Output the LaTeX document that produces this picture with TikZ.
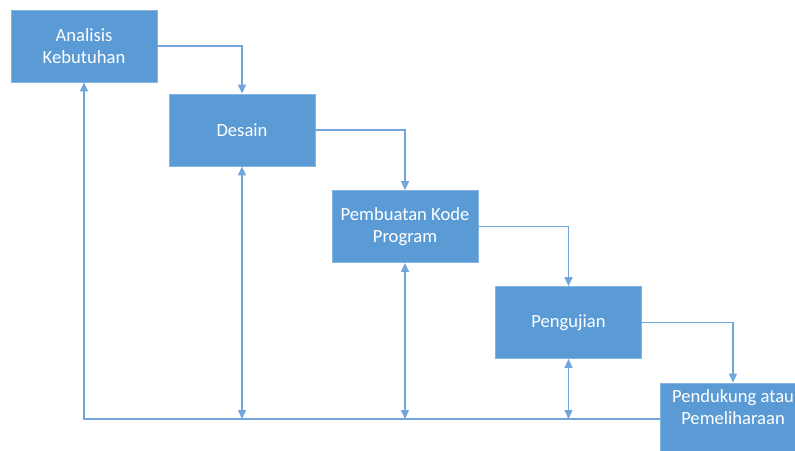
\documentclass[tikz,border=0pt]{standalone}
\usepackage{fontspec}
\setmainfont{Carlito}
\usetikzlibrary{arrows.meta}

\definecolor{kotakbiru}{HTML}{5B9BD5}
\definecolor{garisbiru}{HTML}{70A6DC}

\begin{document}
\begin{tikzpicture}[x=1pt, y=-1pt, >={Triangle[width=8pt, length=9pt]},
    tahap/.style={draw=kotakbiru!75!white, line width=0.8pt, fill=kotakbiru, text=white,
        minimum width=146pt, minimum height=72pt, inner sep=0pt, align=center,
        font=\fontsize{18.6}{22}\selectfont},
    alur/.style={draw=garisbiru, line width=1.3pt}]
    \clip (0,0) rectangle (795,450);

    % Tahapan
    \node[tahap] (analisis) at (84,46) {Analisis\\Kebutuhan};
    \node[tahap] (desain) at (242,130) {Desain};
    \node[tahap] (kode) at (405,226.5) {Pembuatan Kode\\Program};
    \node[tahap] (uji) at (568.5,322.5) {Pengujian};
    \node[tahap] (dukung) at (733,419) {};
    \node[text=white, align=center, font=\fontsize{18.6}{22}\selectfont]
        (dukungteks) at ([yshift=11.5pt]dukung.center) {Pendukung atau\\Pemeliharaan};

    % Alur ke tahap berikutnya
    \draw[alur, ->] (analisis.east) -| (desain.north);
    \draw[alur, ->] (desain.east) -| (kode.north);
    \draw[alur, ->] (kode.east) -| (uji.north);
    \draw[alur, ->] (uji.east) -| (dukung.north);

    % Garis balik di bawah
    \coordinate (sudut) at (84,419);
    \draw[alur, ->] (dukung.west) -- (sudut) -- (analisis.south);
    \draw[alur, <->] (desain.south) -- (desain.south |- sudut);
    \draw[alur, <->] (kode.south) -- (kode.south |- sudut);
    \draw[alur, <->] (uji.south) -- (uji.south |- sudut);
\end{tikzpicture}
\end{document}
